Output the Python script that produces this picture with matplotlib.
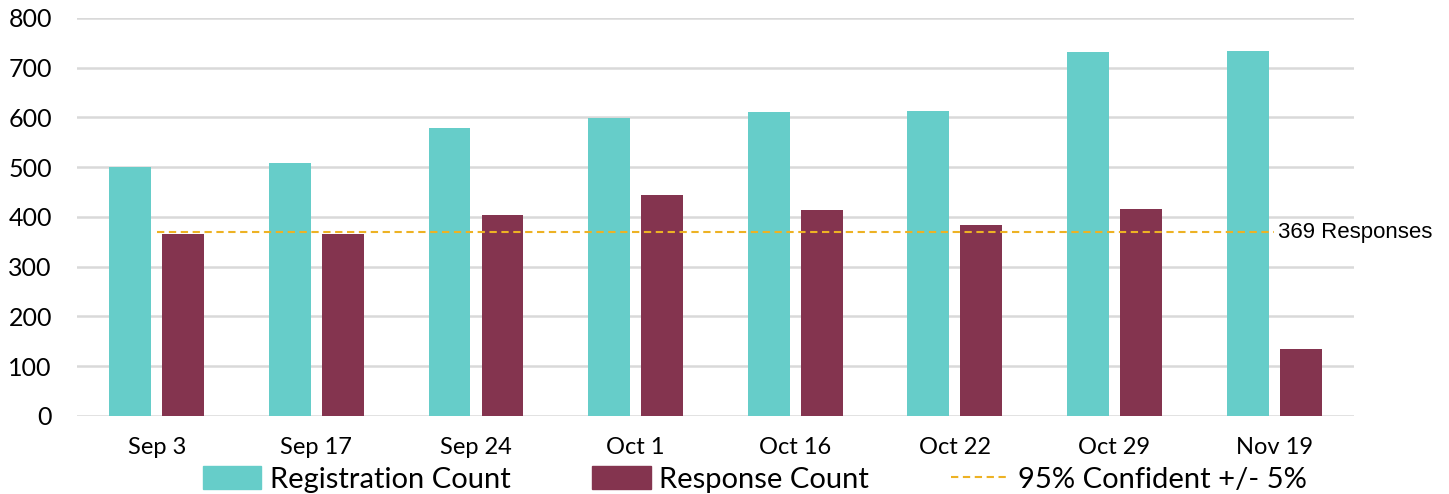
import matplotlib.pyplot as plt
import numpy as np
from matplotlib.lines import Line2D
from matplotlib.patches import Patch

dates = ["Sep 3", "Sep 17", "Sep 24", "Oct 1", "Oct 16", "Oct 22", "Oct 29", "Nov 19"]
registrations = [501, 508, 579, 599, 611, 613, 732, 734]
responses = [365, 366, 405, 444, 414, 383, 417, 134]
target = 369
yticks = [0, 100, 200, 300, 400, 500, 600, 700, 800]

teal = "#66CDC9"
maroon = "#84344F"
gold = "#EDB224"

plt.rcParams["font.family"] = ["Lato", "DejaVu Sans"]

fig = plt.figure(figsize=(14.49, 4.94), dpi=100)
ax = fig.add_axes([0.0531, 0.1579, 0.8813, 0.8057])

x = np.arange(len(dates))
w = 0.263
ax.bar(x - 0.166, registrations, w, color=teal, zorder=3)
ax.bar(x + 0.166, responses, w, color=maroon, zorder=3)
ax.plot(x, [target] * len(x), color=gold, lw=1.5, ls=(0, (3.5, 2.2)), zorder=4)
ax.annotate(f"{target} Responses", xy=(x[-1], target), xytext=(3, 0),
            textcoords="offset points", va="center", ha="left",
            fontsize=16, family="Liberation Sans", annotation_clip=False)

ax.set_xlim(-0.5, len(dates) - 0.5)
ax.set_ylim(0, 800)
ax.set_yticks(yticks)
ax.set_xticks(x, dates)
ax.tick_params(axis="y", length=0, pad=18, labelsize=18)
ax.tick_params(axis="x", length=0, pad=15, labelsize=17)
ax.grid(axis="y", color="#D9D9D9", lw=1.8, zorder=0)
for s in ax.spines.values():
    s.set_visible(False)

handles = [Patch(color=teal), Patch(color=maroon),
           Line2D([], [], color=gold, lw=1.5, ls=(0, (3.5, 2.2)))]
fig.legend(handles, ["Registration Count", "Response Count", "95% Confident +/- 5%"],
           loc="lower center", bbox_to_anchor=(0.521, 0.0), ncol=3, frameon=False,
           fontsize=21, handlelength=2.0, handleheight=0.8, handletextpad=0.3,
           columnspacing=2.8, borderaxespad=0, borderpad=0.05)

fig.savefig("out.png", dpi=100)
